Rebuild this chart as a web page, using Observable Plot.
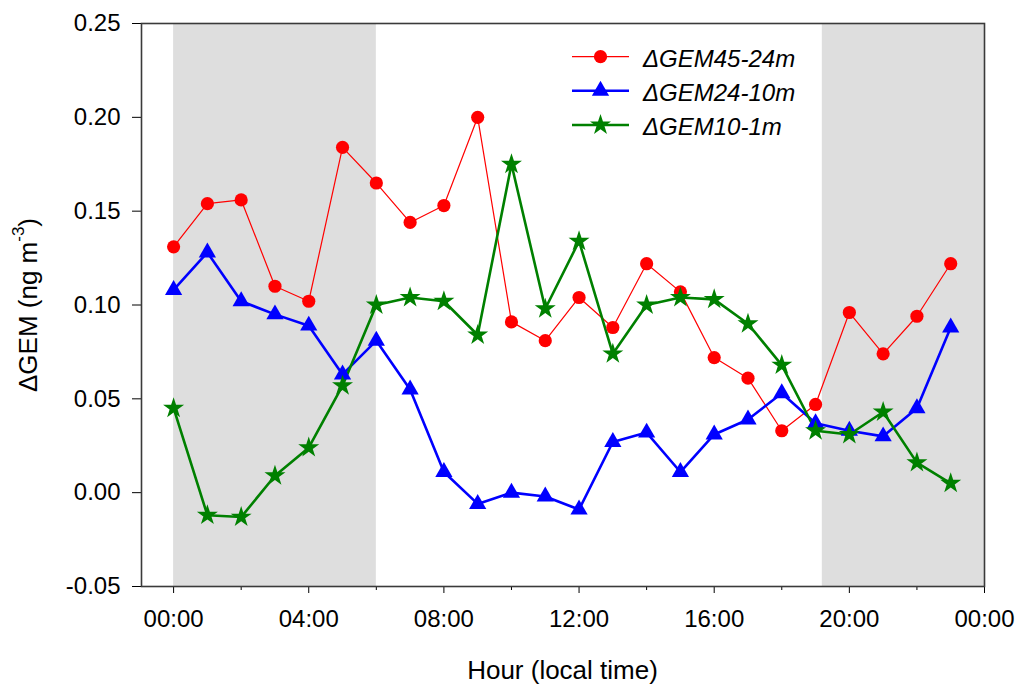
<!DOCTYPE html>
<html>
<head>
<meta charset="utf-8">
<script src="https://cdn.jsdelivr.net/npm/d3@7"></script>
<script src="https://cdn.jsdelivr.net/npm/@observablehq/plot@0.6"></script>
<style>
  html, body { margin: 0; padding: 0; background: #fff; }
  #chart { width: 1027px; height: 686px; }
</style>
</head>
<body>
<div id="chart"></div>
<script>
// ---- data ----
const hours = [0,1,2,3,4,5,6,7,8,9,10,11,12,13,14,15,16,17,18,19,20,21,22,23];
const gem45_24 = [0.131,0.154,0.156,0.110,0.102,0.184,0.165,0.144,0.153,0.200,0.091,0.081,0.104,0.088,0.122,0.107,0.072,0.061,0.033,0.047,0.096,0.074,0.094,0.122];
const gem24_10 = [0.108,0.128,0.102,0.095,0.089,0.063,0.081,0.055,0.011,-0.006,0.000,-0.002,-0.009,0.027,0.032,0.011,0.031,0.039,0.053,0.037,0.033,0.030,0.045,0.088];
const gem10_1  = [0.045,-0.012,-0.013,0.009,0.024,0.057,0.100,0.104,0.102,0.084,0.175,0.098,0.134,0.074,0.100,0.104,0.103,0.090,0.068,0.033,0.031,0.043,0.016,0.005];
const seriesNames = ["ΔGEM45-24m", "ΔGEM24-10m", "ΔGEM10-1m"];
const nightStart = [0, 19.2];
const nightEnd = [6, 24];
const yTicks = [-0.05, 0.00, 0.05, 0.10, 0.15, 0.20, 0.25];
const xMajorTicks = [0, 4, 8, 12, 16, 20, 24];
const xMinorTicks = [2, 6, 10, 14, 18, 22];

// ---- styles ----
const colors = ["#ff0000", "#0000ff", "#008000"];
const symbols = ["circle", "triangle", "star"];
const radii = [6.6, 6.4, 6.6];
const widths = [1.2, 2.6, 2.6];
const FONT = "Arial, 'Liberation Sans', sans-serif";

const values = [gem45_24, gem24_10, gem10_1];
const rows = [];
values.forEach((arr, s) => arr.forEach((v, i) => rows.push({hour: hours[i], value: v, series: seriesNames[s]})));
const bands = nightStart.map((s, i) => ({start: s, end: nightEnd[i]}));

const seriesMarks = [];
seriesNames.forEach((name, s) => {
  const d = rows.filter(r => r.series === name);
  seriesMarks.push(Plot.line(d, {x: "hour", y: "value", stroke: colors[s], strokeWidth: widths[s]}));
});
seriesNames.forEach((name, s) => {
  const d = rows.filter(r => r.series === name);
  seriesMarks.push(Plot.dot(d, {x: "hour", y: "value", symbol: () => symbols[s], fill: colors[s], stroke: "none", r: radii[s]}));
});

const fmtHour = h => String(h % 24).padStart(2, "0") + ":00";

const chart = Plot.plot({
  width: 1027,
  height: 686,
  marginLeft: 141,
  marginRight: 43,
  marginTop: 23,
  marginBottom: 100,
  x: {domain: [-0.95, 24]},
  y: {domain: [-0.05, 0.25]},
  symbol: {type: "identity"},
  style: {fontFamily: FONT, fontSize: "24px", color: "#000", background: "#fff"},
  marks: [
    Plot.rect(bands, {x1: "start", x2: "end", fill: "#dedede"}),
    ...seriesMarks,
    Plot.axisY({ticks: yTicks, tickSize: 9, tickPadding: 12, tickFormat: d => d.toFixed(2), label: null, fontSize: 24, stroke: "#000"}),
    Plot.axisX({ticks: xMajorTicks, tickSize: 7, tickPadding: 16, tickFormat: fmtHour, label: null, fontSize: 24, stroke: "#000"}),
    Plot.axisX({ticks: xMinorTicks, tickSize: 4, tickFormat: () => "", label: null, stroke: "#000"}),
    Plot.frame({stroke: "#3a3a3a", strokeWidth: 1.6})
  ]
});
document.getElementById("chart").appendChild(chart);

// ---- titles and legend ----
const svg = d3.select(chart);
const cx = (141 + (1027 - 43)) / 2;
svg.append("text")
  .attr("x", cx).attr("y", 679)
  .attr("text-anchor", "middle")
  .attr("font-family", FONT).attr("font-size", 26).attr("fill", "#000")
  .text("Hour (local time)");

const yt = svg.append("text")
  .attr("transform", "translate(37,305) rotate(-90)")
  .attr("text-anchor", "middle")
  .attr("font-family", FONT).attr("font-size", 26).attr("fill", "#000");
yt.append("tspan").text("ΔGEM (ng m");
yt.append("tspan").attr("font-size", 17).attr("dy", "-0.75em").text("-3");
yt.append("tspan").attr("dy", "0.5em").text(")");

const legend = svg.append("g");
const legendY = [56.7, 90.7, 125];
seriesNames.forEach((name, s) => {
  const g = legend.append("g").attr("transform", `translate(0,${legendY[s]})`);
  g.append("line").attr("x1", 572).attr("x2", 629).attr("y1", 0).attr("y2", 0)
    .attr("stroke", colors[s]).attr("stroke-width", widths[s]);
  const sym = {circle: d3.symbolCircle, triangle: d3.symbolTriangle, star: d3.symbolStar}[symbols[s]];
  g.append("path").attr("transform", "translate(600.5,0)")
    .attr("d", d3.symbol(sym, Math.PI * radii[s] * radii[s])())
    .attr("fill", colors[s]);
  g.append("text").attr("x", 643).attr("y", 10)
    .attr("text-anchor", "start")
    .attr("font-family", FONT).attr("font-size", 24).attr("font-style", "italic").attr("fill", "#000")
    .text(name);
});
</script>
</body>
</html>
